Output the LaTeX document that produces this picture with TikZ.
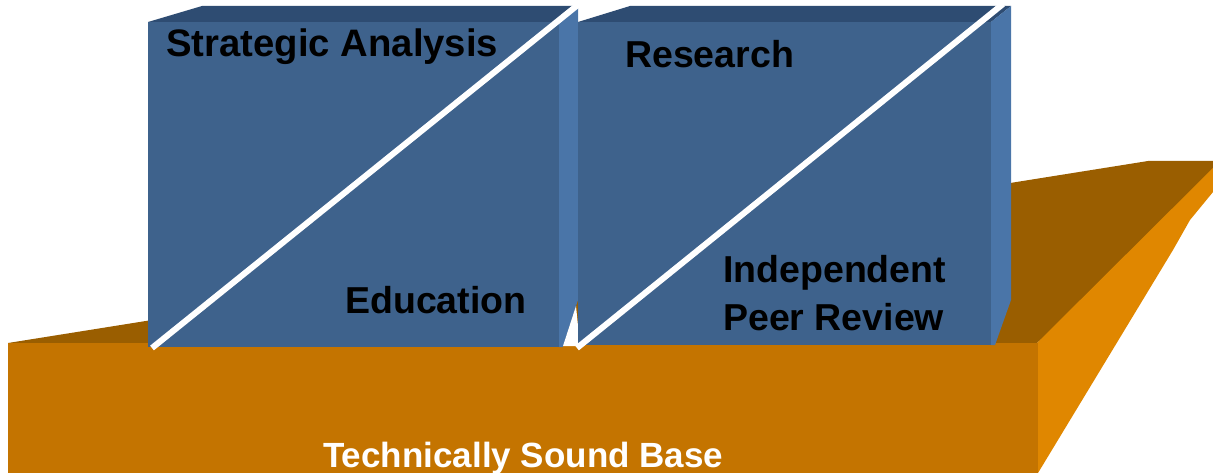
\documentclass[tikz,border=0pt]{standalone}
\usepackage{fontspec}
\setmainfont{Liberation Sans}
\definecolor{bfront}{RGB}{62,98,140}
\definecolor{btop}{RGB}{46,76,114}
\definecolor{bside}{RGB}{74,117,168}
\definecolor{ofront}{RGB}{196,116,0}
\definecolor{otop}{RGB}{154,94,0}
\definecolor{oside}{RGB}{224,135,0}
\begin{document}
\begin{tikzpicture}[x=1pt,y=-1pt,
  lbl/.style={anchor=base west,inner sep=0pt,text=black,font=\bfseries\fontsize{37.5}{44}\selectfont},
  gap/.style={draw=white,line width=6pt,line cap=butt}]
\useasboundingbox (0,0) rectangle (1213,473);
\clip (0,0) rectangle (1213,473);
% orange base
\fill[otop] (8,343) -- (1148,161) -- (1240,161) -- (1037,343) -- cycle;
\fill[oside] (1037,343) -- (1220,161) -- (1240,161) -- (1213,192) -- (1190,220) -- (1173,250) -- (1038,473) -- cycle;
\fill[ofront] (8,343) rectangle (1038,473);
% box 1
\fill[btop] (148,22) -- (202,6) -- (578,6) -- (559,22) -- cycle;
\fill[bside] (559,22) -- (578,6) -- (578,300) -- (563,347) -- (559,347) -- cycle;
\fill[bfront] (148,22) rectangle (559,347);
\fill[white] (563,346) -- (576,306) -- (580,346) -- cycle;
% box 2
\fill[btop] (578,22) -- (630,6) -- (1011,6) -- (991,22) -- cycle;
\fill[bside] (991,22) -- (1011,6) -- (1011,300) -- (995,345) -- (991,345) -- cycle;
\fill[bfront] (578,22) rectangle (991,345);
% white diagonals
\draw[gap] (152,348) -- (579,4);
\draw[gap] (577,348) -- (1003,4);
% labels
\node[lbl,font=\bfseries\fontsize{38.3}{44}\selectfont] (sa) at (166,57) {Strategic Analysis};
\node[lbl] (res) at (625,68) {Research};
\node[lbl] (edu) at (345,313) {Education};
\node[lbl] (ind) at (723,282) {Independent};
\node[lbl] (peer) at (723,330) {Peer Review};
\node[lbl,text=white,font=\bfseries\fontsize{35}{42}\selectfont] (base) at (323,467) {Technically Sound Base};
\end{tikzpicture}
\end{document}
